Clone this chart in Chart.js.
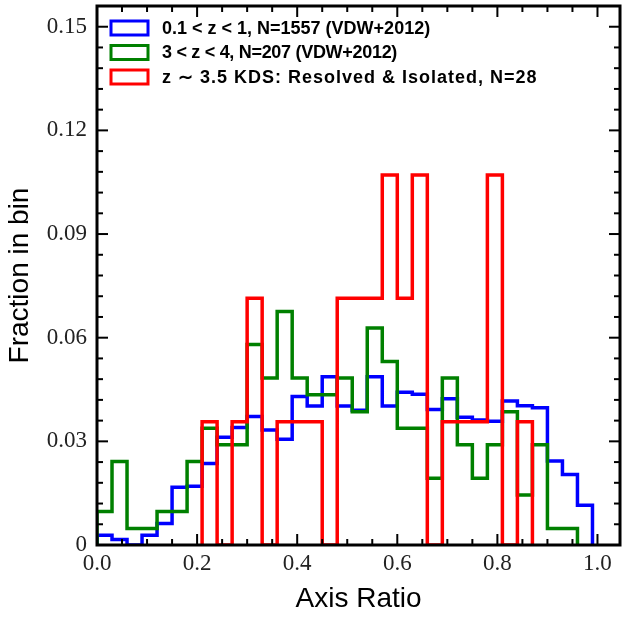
<!DOCTYPE html>
<html>
<head>
<meta charset="utf-8">
<script src="https://cdn.jsdelivr.net/npm/chart.js@4/dist/chart.umd.min.js"></script>
<style>
  html, body { margin: 0; padding: 0; background: #fff; }
  canvas { display: block; }
</style>
</head>
<body>
<canvas id="hist" width="622" height="617"></canvas>
<script>
// bin edges (width 0.03), shared by all three histograms
const binEdges = [0.00, 0.03, 0.06, 0.09, 0.12, 0.15, 0.18, 0.21, 0.24, 0.27,
                  0.30, 0.33, 0.36, 0.39, 0.42, 0.45, 0.48, 0.51, 0.54, 0.57,
                  0.60, 0.63, 0.66, 0.69, 0.72, 0.75, 0.78, 0.81, 0.84, 0.87,
                  0.90, 0.93, 0.96, 0.99];

// 0.1 < z < 1 (VDW+2012)
const lowZ = [0.0028, 0.0016, 0.0000, 0.0028, 0.0062, 0.0167, 0.0170, 0.0236, 0.0312, 0.0340,
              0.0372, 0.0333, 0.0306, 0.0430, 0.0402, 0.0487, 0.0402, 0.0390, 0.0487, 0.0402,
              0.0442, 0.0436, 0.0392, 0.0423, 0.0370, 0.0362, 0.0358, 0.0417, 0.0403, 0.0397,
              0.0243, 0.0204, 0.0115];

// 3 < z < 4 (VDW+2012)
const highZ = [0.0097, 0.0242, 0.0048, 0.0048, 0.0097, 0.0097, 0.0242, 0.0338, 0.0290, 0.0290,
               0.0580, 0.0483, 0.0676, 0.0483, 0.0435, 0.0435, 0.0483, 0.0386, 0.0628, 0.0531,
               0.0338, 0.0338, 0.0193, 0.0483, 0.0290, 0.0193, 0.0290, 0.0386, 0.0145, 0.0290,
               0.0048, 0.0048, 0.0000];

// KDS resolved & isolated
const kds = [0, 0, 0, 0, 0, 0, 0, 0.0357, 0.0000, 0.0357,
             0.0714, 0.0000, 0.0357, 0.0357, 0.0357, 0.0000, 0.0714, 0.0714, 0.0714, 0.1071,
             0.0714, 0.1071, 0.0000, 0.0357, 0.0357, 0.0357, 0.1071, 0.0000, 0.0357, 0,
             0, 0, 0];

const seriesLabels = [
    '0.1 < z < 1, N=1557 (VDW+2012)',
    '3 < z < 4, N=207 (VDW+2012)',
    'z \u223C 3.5 KDS: Resolved & Isolated, N=28'
];
const seriesColors = ['#0000ff', '#008000', '#ff0000'];

const xTicks = [0.0, 0.2, 0.4, 0.6, 0.8, 1.0];
const xTickLabels = ['0.0', '0.2', '0.4', '0.6', '0.8', '1.0'];
const yTicks = [0, 0.03, 0.06, 0.09, 0.12, 0.15];
const yTickLabels = ['0', '0.03', '0.06', '0.09', '0.12', '0.15'];

// turn bin values into step outline points (stepped: 'before' = hold value until next edge)
function steps(values) {
    let first = values.findIndex(v => v > 0);
    let last = values.length - 1;
    while (last > 0 && !(values[last] > 0)) last--;
    const pts = [{x: binEdges[first], y: 0}];
    for (let i = first; i <= last; i++) pts.push({x: binEdges[i], y: values[i]});
    pts.push({x: binEdges[last + 1], y: 0});
    return pts;
}

// frame with inward ticks on all four sides, drawn over the histograms
const framePlugin = {
    id: 'frame',
    afterDatasetsDraw(chart) {
        const {ctx, chartArea: a, scales: {x, y}} = chart;
        ctx.save();
        ctx.strokeStyle = '#000';
        ctx.lineWidth = 2;
        const tick = (px, py, dx, dy) => { ctx.beginPath(); ctx.moveTo(px, py); ctx.lineTo(px + dx, py + dy); ctx.stroke(); };
        for (let v = 0; v <= x.max + 1e-9; v += 0.05) {
            const px = x.getPixelForValue(v);
            const major = xTicks.some(t => Math.abs(t - v) < 1e-6);
            const len = major ? 11 : 6;
            tick(px, a.bottom, 0, -len);
            tick(px, a.top, 0, len);
        }
        for (let v = 0; v <= y.max + 1e-9; v += 0.006) {
            const py = y.getPixelForValue(v);
            const major = yTicks.some(t => Math.abs(t - v) < 1e-6);
            const len = major ? 11 : 6;
            tick(a.left, py, len, 0);
            tick(a.right, py, -len, 0);
        }
        ctx.lineWidth = 3;
        ctx.strokeRect(a.left, a.top, a.right - a.left, a.bottom - a.top);
        ctx.restore();
    }
};

// legend boxes in the upper left corner of the plot
const legendSpacing = [0, -0.3, 1];
const legendPlugin = {
    id: 'boxLegend',
    afterDraw(chart) {
        const {ctx, chartArea: a} = chart;
        ctx.save();
        ctx.font = 'bold 18px "Liberation Sans", Arial, sans-serif';
        ctx.textBaseline = 'middle';
        chart.data.datasets.forEach((ds, i) => {
            const cy = a.top + 22 + i * 24.5;
            ctx.strokeStyle = ds.borderColor;
            ctx.lineWidth = 3;
            ctx.strokeRect(a.left + 14, cy - 7, 37, 14);
            ctx.fillStyle = '#000';
            ctx.letterSpacing = legendSpacing[i] + 'px';
            ctx.fillText(ds.label, a.left + 65, cy + 1);
        });
        ctx.restore();
    }
};

new Chart(document.getElementById('hist'), {
    type: 'line',
    data: {
        datasets: [
            { label: seriesLabels[0], data: steps(lowZ), borderColor: seriesColors[0], order: 3 },
            { label: seriesLabels[1], data: steps(highZ), borderColor: seriesColors[1], order: 2 },
            { label: seriesLabels[2], data: steps(kds), borderColor: seriesColors[2], order: 1 }
        ].map(ds => Object.assign(ds, {
            stepped: 'before', borderWidth: 3.5, pointRadius: 0, fill: false, clip: 0,
            borderJoinStyle: 'miter'
        }))
    },
    options: {
        responsive: false,
        animation: false,
        devicePixelRatio: 1,
        layout: { padding: { top: 6, right: 2, left: 0, bottom: 0 } },
        plugins: { legend: { display: false }, tooltip: { enabled: false } },
        scales: {
            x: {
                type: 'linear', min: 0, max: 1.045,
                grid: { display: false, drawTicks: false },
                border: { display: false },
                afterBuildTicks: s => { s.ticks = xTicks.map(v => ({value: v})); },
                afterFit: s => { s.height = 72; s.paddingLeft = 0; s.paddingRight = 0; },
                ticks: {
                    callback: (v, i) => xTickLabels[i],
                    padding: 5, maxRotation: 0,
                    color: '#222',
                    font: { family: '"Liberation Serif", serif', size: 23 }
                },
                title: {
                    display: true, text: 'Axis Ratio', color: '#000',
                    font: { family: '"Liberation Sans", Arial, sans-serif', size: 28, lineHeight: 1.2 },
                    padding: { top: 0, bottom: 1 }
                }
            },
            y: {
                type: 'linear', min: 0, max: 0.156,
                grid: { display: false, drawTicks: false },
                border: { display: false },
                afterBuildTicks: s => { s.ticks = yTicks.map(v => ({value: v})); },
                afterFit: s => { s.width = 97; s.paddingTop = 0; s.paddingBottom = 0; },
                ticks: {
                    callback: (v, i) => yTickLabels[i],
                    padding: 10,
                    color: '#222',
                    font: { family: '"Liberation Serif", serif', size: 23 }
                },
                title: {
                    display: true, text: 'Fraction in bin', color: '#000',
                    font: { family: '"Liberation Sans", Arial, sans-serif', size: 28, lineHeight: 1.2 },
                    padding: { top: 3, bottom: 0 }
                }
            }
        }
    },
    plugins: [framePlugin, legendPlugin]
});
</script>
</body>
</html>
